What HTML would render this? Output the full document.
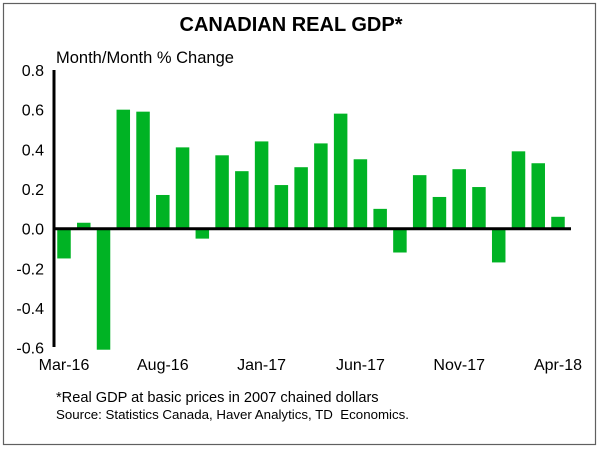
<!DOCTYPE html>
<html><head><meta charset="utf-8"><style>
body{margin:0;background:#fff;}
svg{display:block;font-family:"Liberation Sans",sans-serif;}
</style></head><body>
<svg width="600" height="449" viewBox="0 0 600 449">
<rect x="3.5" y="3.5" width="592" height="441" fill="#fff" stroke="#606060" stroke-width="1.2"/>
<text x="291" y="31" text-anchor="middle" font-size="20" font-weight="bold">CANADIAN REAL GDP*</text>
<text x="56" y="63" font-size="16.5">Month/Month % Change</text>
<g id="bars"></g>
<g id="yticks"></g>
<g id="xticks"></g>
<line x1="54" y1="70" x2="54" y2="347" stroke="#000" stroke-width="3"/>
<line id="zero" x1="54" x2="571" stroke="#000" stroke-width="3"/>
<text x="56" y="402" font-size="14.6">*Real GDP at basic prices in 2007 chained dollars</text>
<text x="56" y="419" font-size="13.3" xml:space="preserve" style="white-space:pre">Source: Statistics Canada, Haver Analytics, TD  Economics.</text>
</svg>
<script>
const categories=["Mar-16","Apr-16","May-16","Jun-16","Jul-16","Aug-16","Sep-16","Oct-16","Nov-16","Dec-16","Jan-17","Feb-17","Mar-17","Apr-17","May-17","Jun-17","Jul-17","Aug-17","Sep-17","Oct-17","Nov-17","Dec-17","Jan-18","Feb-18","Mar-18","Apr-18"];
const values=[-0.15,0.03,-0.61,0.60,0.59,0.17,0.41,-0.05,0.37,0.29,0.44,0.22,0.31,0.43,0.58,0.35,0.10,-0.12,0.27,0.16,0.30,0.21,-0.17,0.39,0.33,0.06];
const yTicks=[0.8,0.6,0.4,0.2,0.0,-0.2,-0.4,-0.6];
const xLabels=["Mar-16","Aug-16","Jan-17","Jun-17","Nov-17","Apr-18"];
const NS="http://www.w3.org/2000/svg";
const y=v=>228.7-v*(158.7/0.8);
const x=i=>64+i*19.76;
const bw=13.5;
const gb=document.getElementById('bars');
values.forEach((v,i)=>{
 const r=document.createElementNS(NS,'rect');
 r.setAttribute('x',x(i)-bw/2);
 r.setAttribute('y',Math.min(y(v),y(0)));
 r.setAttribute('width',bw);
 r.setAttribute('height',Math.abs(y(v)-y(0)));
 r.setAttribute('fill','#00b324');
 
 
 gb.appendChild(r);
});
const z=document.getElementById('zero');z.setAttribute('y1',y(0));z.setAttribute('y2',y(0));
const gy=document.getElementById('yticks');
yTicks.forEach(t=>{
 const e=document.createElementNS(NS,'text');
 e.setAttribute('x',44);e.setAttribute('y',y(t)+6);
 e.setAttribute('text-anchor','end');e.setAttribute('font-size','16');
 e.textContent=t.toFixed(1);
 
 
 gy.appendChild(e);
});
const gx=document.getElementById('xticks');
xLabels.forEach(l=>{
 const i=categories.indexOf(l);
 const e=document.createElementNS(NS,'text');
 e.setAttribute('x',x(i));e.setAttribute('y',370);
 e.setAttribute('text-anchor','middle');e.setAttribute('font-size','16');
 e.textContent=l;
 
 
 gx.appendChild(e);
});
</script>
</body></html>
